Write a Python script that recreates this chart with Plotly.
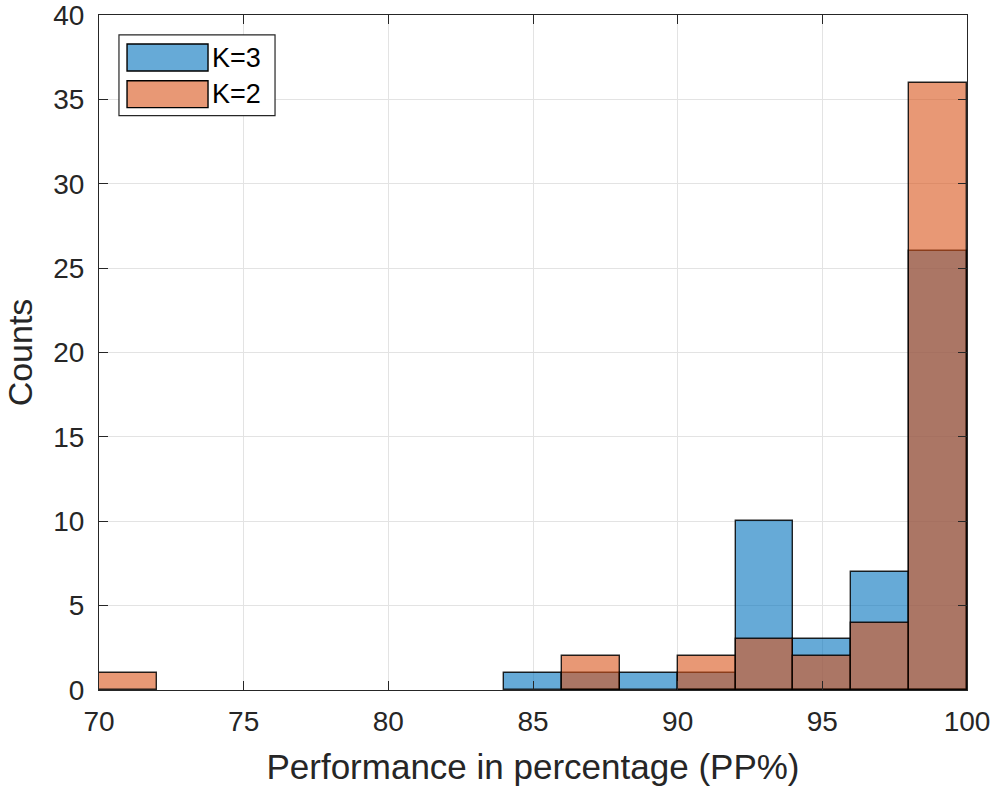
import plotly.graph_objects as go

bin_edges = [70, 72, 74, 76, 78, 80, 82, 84, 86, 88, 90, 92, 94, 96, 98, 100]
counts_k3 = [0, 0, 0, 0, 0, 0, 0, 1, 1, 1, 1, 10, 3, 7, 26]
counts_k2 = [1, 0, 0, 0, 0, 0, 0, 0, 2, 0, 2, 3, 2, 4, 36]
series_names = ["K=3", "K=2"]
x_ticks = [70, 75, 80, 85, 90, 95, 100]
y_ticks = [0, 5, 10, 15, 20, 25, 30, 35, 40]

FILL = ["rgba(0,114,189,0.6)", "rgba(217,83,25,0.6)"]
FONT = "Liberation Sans, Arial, Helvetica"
TXT = "#262626"

centers = [(a + b) / 2 for a, b in zip(bin_edges[:-1], bin_edges[1:])]
widths = [b - a for a, b in zip(bin_edges[:-1], bin_edges[1:])]

def trim(counts):
    xs, ys, ws = [], [], []
    for c, y, w in zip(centers, counts, widths):
        if y > 0:
            xs.append(c); ys.append(y); ws.append(w)
    return xs, ys, ws

fig = go.Figure()
for name, counts, color in zip(series_names, [counts_k3, counts_k2], FILL):
    xs, ys, ws = trim(counts)
    fig.add_trace(go.Bar(
        x=xs, y=ys, width=ws, name=name, showlegend=False,
        marker=dict(color=color, line=dict(color="rgba(0,0,0,0.85)", width=1.4)),
    ))

axis_common = dict(
    showgrid=True, gridcolor="#e3e3e3", gridwidth=1,
    showline=True, linecolor=TXT, linewidth=1.2, mirror="ticks",
    ticks="inside", ticklen=9, tickcolor=TXT, tickwidth=1.2,
    tickfont=dict(family=FONT, size=28, color=TXT),
    zeroline=False, automargin=False, ticklabeloverflow="allow",
)

# Legend drawn manually (MATLAB-style wide swatches), in paper coordinates
shapes = [dict(type="rect", xref="paper", yref="paper", x0=0.023, x1=0.2028, y0=0.851, y1=0.9705,
               fillcolor="white", line=dict(color=TXT, width=1.2), layer="above")]
annotations = []
sw_y = [(0.917, 0.957), (0.8628, 0.9027)]
for name, color, (y0, y1) in zip(series_names, FILL, sw_y):
    shapes.append(dict(type="rect", xref="paper", yref="paper", x0=0.0323, x1=0.1256, y0=y0, y1=y1,
                       fillcolor=color, line=dict(color="black", width=1.4), layer="above"))
    annotations.append(dict(xref="paper", yref="paper", x=0.128, y=(y0 + y1) / 2, text=name,
                            showarrow=False, xanchor="left", yanchor="middle",
                            font=dict(family=FONT, size=27, color="black")))

fig.update_layout(
    width=998, height=793,
    margin=dict(l=99, r=31, t=15, b=103),
    paper_bgcolor="white", plot_bgcolor="white",
    barmode="overlay", bargap=0,
    xaxis=dict(range=[70, 100], tickvals=x_ticks, ticklabelstandoff=6,
               title=dict(text="Performance in percentage (PP%)", standoff=18,
                          font=dict(family=FONT, size=35, color=TXT)),
               **axis_common),
    yaxis=dict(range=[0, 40], tickvals=y_ticks, ticklabelstandoff=8,
               title=dict(text="Counts", standoff=10,
                          font=dict(family=FONT, size=34, color=TXT)),
               **axis_common),
    shapes=shapes, annotations=annotations,
    showlegend=False,
)

fig.write_html("out.html")
